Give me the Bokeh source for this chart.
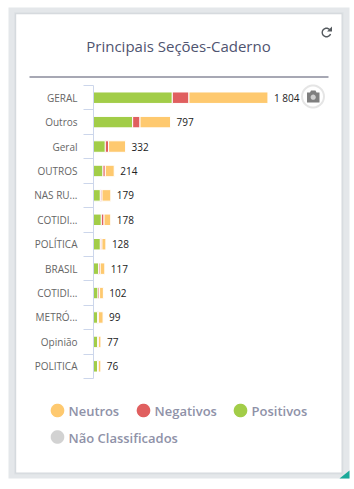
from bokeh.plotting import figure
from bokeh.embed import file_html
from bokeh.resources import INLINE
from bokeh.models import BoxAnnotation, Label, PolyAnnotation, Range1d, FixedTicker, ColumnDataSource
from bokeh.core.properties import value
import math

categories = ["GERAL", "Outros", "Geral", "OUTROS", "NAS RU...", "COTIDI...", "POLÍTICA", "BRASIL", "COTIDI...", "METRÓ...", "Opinião", "POLITICA"]
positivos = [815, 405, 122, 98, 71, 81, 71, 53, 47, 43, 43, 42]
negativos = [172, 76, 34, 24, 17, 28, 16, 16, 16, 7, 7, 7]
neutros = [817, 316, 176, 92, 91, 69, 41, 48, 39, 49, 27, 27]
totals = [1804, 797, 332, 214, 179, 178, 128, 117, 102, 99, 77, 76]
total_labels = ["1 804", "797", "332", "214", "179", "178", "128", "117", "102", "99", "77", "76"]
legend_names = ["Neutros", "Negativos", "Positivos", "Não Classificados"]
title_text = "Principais Seções-Caderno"

C_POS, C_NEG, C_NEU, C_NC = "#a2cd48", "#e05f5f", "#fec96f", "#d2d2d2"
FONT = "Open Sans"
W, H = 354, 489
OX, OY = 0, 0
X0, PX_PER_UNIT = 93.0, 0.0967   # where value 0 sits, px per value
Y0, ROW = 85.0, 24.42            # top of the first row, row height


def sx(px):
    return px - OX


def sy(py):
    return H - (py - OY)


n = len(categories)
ys = list(range(n))
p = figure(width=W, height=H, output_backend="svg", toolbar_location=None,
           x_range=Range1d(-X0 / PX_PER_UNIT, (W - X0) / PX_PER_UNIT),
           y_range=Range1d(n - 0.5 + (H - Y0 - n * ROW) / ROW, -0.5 - Y0 / ROW),
           min_border_left=0, min_border_right=0, min_border_top=0, min_border_bottom=0,
           background_fill_color="#ffffff", border_fill_color="#ffffff", outline_line_color=None)
p.grid.visible = False
p.xaxis.visible = False


def box(l, r, t, b, color, alpha=1.0):
    p.add_layout(BoxAnnotation(left=sx(l), right=sx(r), top=sy(t), bottom=sy(b),
                               left_units="screen", right_units="screen", top_units="screen", bottom_units="screen",
                               fill_color=color, fill_alpha=alpha, line_color=None, level="underlay"))


def poly(xs, ys_, color, line=None, lw=1, level="annotation"):
    p.add_layout(PolyAnnotation(xs=[sx(v) for v in xs], ys=[sy(v) for v in ys_],
                                xs_units="screen", ys_units="screen", fill_color=color, fill_alpha=1,
                                line_color=line, line_width=lw, level=level))


def circle(cx, cy, r, fill, line=None, lw=1):
    angles = [math.radians(a) for a in range(0, 360, 12)]
    poly([cx + r * math.cos(a) for a in angles], [cy + r * math.sin(a) for a in angles], fill, line, lw)


# grey panel, card shadow, card
box(8, 349, 7, 478, "#e4e7ea")
for grow, alpha in ((2, 0.25), (1, 0.45)):
    box(15.7 - grow, 341 + grow, 13.7 - grow, 472 + grow, "#c9ced3", alpha)
box(15.7, 341, 13.7, 472, "#ffffff")
poly([339, 349, 349], [478, 470, 478], "#1aa999", level="underlay")
box(29, 328, 76, 77, "#50536b")

p.add_layout(Label(x=sx(178), y=sy(45), x_units="screen", y_units="screen", text=title_text,
                   text_font=FONT, text_font_size="15px", text_color="#4f5470", text_align="center",
                   text_baseline="middle"))

# bars
src = ColumnDataSource(dict(y=ys, positivos=positivos, negativos=negativos, neutros=neutros,
                            total=totals, lab=total_labels))
p.hbar_stack(["positivos", "negativos", "neutros"], y="y", height=0.47, source=src,
             color=[C_POS, C_NEG, C_NEU], line_color="#ffffff", line_width=1)

# value labels
p.text(x="total", y="y", text="lab", source=src, x_offset=6, text_font=value(FONT), text_font_size="10px",
       text_color="#222222", text_baseline="middle", text_align="left")

# axis: labels on the rows, ticks on the boundaries between them
ax = p.yaxis[0]
ax.fixed_location = 0
ax.bounds = (-0.5, n - 0.5)
ax.ticker = FixedTicker(ticks=ys, minor_ticks=[i - 0.5 for i in range(n + 1)])
ax.major_label_overrides = {i: c for i, c in enumerate(categories)}
ax.major_label_text_font = FONT
ax.major_label_text_font_size = "10px"
ax.major_label_text_color = "#666666"
ax.major_label_standoff = 6
ax.axis_line_color = "#ccd6eb"
ax.major_tick_line_color = None
ax.major_tick_out = 0
ax.major_tick_in = 0
ax.minor_tick_line_color = "#ccd6eb"
ax.minor_tick_out = 10
ax.minor_tick_in = 0

# legend
items = [(57, 410, 0, C_NEU), (143, 410, 1, C_NEG), (240, 410, 2, C_POS), (57, 436.5, 3, C_NC)]
for cx, cy, i, c in items:
    circle(cx, cy, 6.8, c)
    p.add_layout(Label(x=sx(cx + 11), y=sy(cy + 0.5), x_units="screen", y_units="screen", text=legend_names[i],
                       text_font="Open Sans SemiBold, Open Sans", text_font_size="13px", text_color="#8f92a8",
                       text_baseline="middle"))

# camera button
circle(312.5, 96, 11, "#ffffff", line="#a8a8a8", lw=2)
poly([306.5, 309.5, 310.5, 315, 316, 319, 319, 306.5], [92, 92, 90, 90, 92, 92, 102, 102], "#7f7f7f")
circle(312.7, 96.7, 2.6, "#cfcfcf")

# refresh icon
cx, cy, r = 326, 32, 5.0
arc = [math.radians(a) for a in range(40, 350, 20)]
poly([cx + r * math.cos(a) for a in arc] + [cx + (r - 1.4) * math.cos(a) for a in reversed(arc)],
     [cy - r * math.sin(a) for a in arc] + [cy - (r - 1.4) * math.sin(a) for a in reversed(arc)], "#555a5f")
poly([326.5, 331.5, 331.5], [31, 31, 26], "#555a5f")

open("out.html", "w").write(file_html(p, INLINE))
